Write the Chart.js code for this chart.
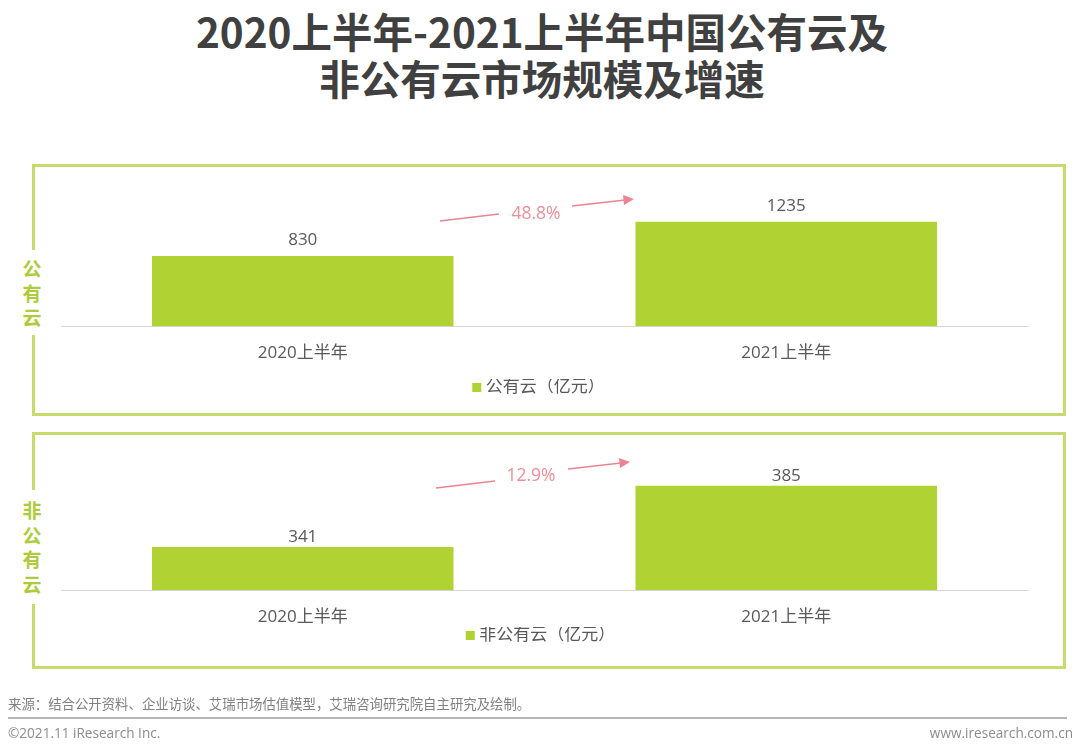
<!DOCTYPE html>
<html>
<head>
<meta charset="utf-8">
<script src="https://cdn.jsdelivr.net/npm/chart.js@4"></script>
<style>
    html, body { margin: 0; padding: 0; background: #fff; }
    body { width: 1080px; height: 753px; position: relative; overflow: hidden; font-family: "Open Sans", "Noto Sans CJK SC", sans-serif; }
    canvas, svg, .abs { position: absolute; }
    .title { left: 0; width: 1084px; top: 7px; text-align: center; font: 700 40.5px/47px "Noto Sans CJK SC", sans-serif; color: #404040; white-space: nowrap; }
    .frame { left: 32px; width: 1028px; border: 3px solid #c5dc6c; }
    .side { left: 19px; width: 26px; background: #fff; text-align: center; color: #aecb3c; font: 700 19px/24.5px "Noto Sans CJK SC", sans-serif; }
    .rate { color: #e98f99; font-size: 17.5px; line-height: 20px; width: 70px; text-align: center; }
    .source { left: 8px; top: 696px; font-size: 13.4px; line-height: 16px; color: #808080; white-space: nowrap; }
    .rule { left: 8px; top: 717px; width: 1059px; height: 2px; background: #b5b5b5; }
    .copy { top: 724px; font-size: 13.6px; line-height: 17px; color: #8c8c8c; }
</style>
</head>
<body>
<div class="abs title">2020上半年-2021上半年中国公有云及<br>非公有云市场规模及增速</div>

<div class="abs frame" style="top:164px;height:246px"></div>
<div class="abs side" style="left:19px;top:250px;height:85px;padding-top:6px;box-sizing:border-box">公<br>有<br>云</div>
<div class="abs frame" style="top:432px;height:231px"></div>
<div class="abs side" style="left:19px;top:490px;height:114px;padding-top:8px;box-sizing:border-box">非<br>公<br>有<br>云</div>

<canvas id="chartPublic" width="975" height="236" style="left:53px;top:170px"></canvas>
<canvas id="chartOther" width="971" height="214" style="left:57px;top:440px"></canvas>

<svg width="1080" height="753" style="left:0;top:0">
    <g stroke="#e98491" stroke-width="1.3" fill="#e98491">
        <line x1="440" y1="221" x2="499" y2="214"/>
        <line x1="572" y1="206" x2="625" y2="200"/>
        <polygon stroke="none" points="634,199 623,195 624,205"/>
        <line x1="436" y1="488" x2="495" y2="481"/>
        <line x1="568" y1="469" x2="621" y2="463"/>
        <polygon stroke="none" points="630,462 619,458 620,468"/>
    </g>
</svg>
<div class="abs rate" style="left:501px;top:202px">48.8%</div>
<div class="abs rate" style="left:496px;top:464px">12.9%</div>

<div class="abs source">来源：结合公开资料、企业访谈、艾瑞市场估值模型，艾瑞咨询研究院自主研究及绘制。</div>
<div class="abs rule"></div>
<div class="abs copy" style="left:8px">©2021.11 iResearch Inc.</div>
<div class="abs copy" style="right:7px">www.iresearch.com.cn</div>

<script>
const categories = ['2020上半年', '2021上半年'];
const publicValues = [830, 1235];
const otherValues = [341, 385];
const publicLabel = '公有云（亿元）';
const otherLabel = '非公有云（亿元）';

const fontFamily = '"Open Sans", "Noto Sans CJK SC", sans-serif';
const barColor = '#b0d232';
const textColor = '#595959';

// value above each bar
const valueLabels = {
    id: 'valueLabels',
    afterDatasetsDraw(chart, args, opts) {
        const ctx = chart.ctx;
        const meta = chart.getDatasetMeta(0);
        ctx.save();
        ctx.font = `17px ${fontFamily}`;
        ctx.fillStyle = textColor;
        ctx.textAlign = 'center';
        ctx.textBaseline = 'middle';
        meta.data.forEach((bar, i) => {
            ctx.fillText(chart.data.datasets[0].data[i], bar.x, bar.y - opts.offset);
        });
        ctx.restore();
    }
};

function makeChart(id, label, values, yMin, yMax, leftGap, axisHeight, labelOffset) {
    return new Chart(document.getElementById(id), {
        type: 'bar',
        plugins: [valueLabels],
        data: {
            labels: categories,
            datasets: [{
                label: label,
                data: values,
                backgroundColor: barColor,
                barPercentage: 1,
                categoryPercentage: 0.6235
            }]
        },
        options: {
            responsive: false,
            animation: false,
            devicePixelRatio: 1,
            scales: {
                x: {
                    grid: { display: false, drawTicks: false },
                    border: { color: '#d4d4d4', width: 1 },
                    ticks: { color: textColor, padding: 16.5, font: { family: fontFamily, size: 17 } },
                    afterFit: scale => { scale.height = axisHeight; }
                },
                y: {
                    min: yMin,
                    max: yMax,
                    grid: { display: false },
                    border: { display: false },
                    ticks: { display: false },
                    afterFit: scale => { scale.width = leftGap; }
                }
            },
            plugins: {
                tooltip: { enabled: false },
                valueLabels: { offset: labelOffset },
                legend: {
                    position: 'bottom',
                    labels: {
                        color: textColor,
                        font: { family: fontFamily, size: 17, lineHeight: 1 },
                        usePointStyle: true,
                        pointStyle: 'rect',
                        boxWidth: 1,
                        boxHeight: 9,
                        padding: 0
                    }
                }
            }
        }
    });
}

makeChart('chartPublic', publicLabel, publicValues, 0, 1850, 8, 53, 16);
makeChart('chartOther', otherLabel, otherValues, 310, 418, 4, 37, 10);
</script>
</body>
</html>
